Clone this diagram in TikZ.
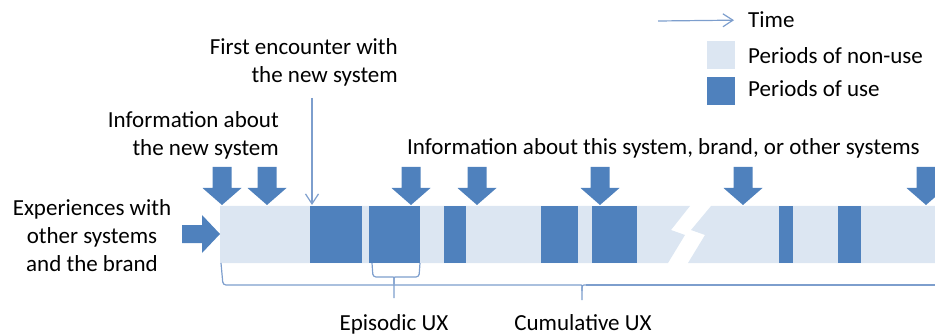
\documentclass[tikz,border=0pt]{standalone}
\usepackage{fontspec}
\setmainfont{Carlito}
\usetikzlibrary{arrows.meta}
\definecolor{usecol}{HTML}{4F81BD}
\definecolor{idlecol}{HTML}{DCE6F2}
\definecolor{linecol}{RGB}{125,158,205}

\begin{document}
\begin{tikzpicture}[x=1pt,y=-1pt,
  lbl/.style={inner sep=0pt, font=\fontsize{23}{28}\selectfont},
  thinline/.style={draw=linecol, line width=1.2pt},
  thinarrow/.style={thinline, -{Straight Barb[length=10pt,width=13pt]}},
  legendbox/.style={inner sep=0pt, minimum size=28pt, draw=none},
  infoarrow/.pic={\fill[usecol] (-9.5,0) -- (9.5,0) -- (9.5,21) -- (19.5,21)
                   -- (0,38) -- (-19.5,21) -- (-9.5,21) -- cycle;}
]
\clip (0,0) rectangle (935,334);

% time line: periods of non-use, broken by a lightning cut
\fill[idlecol] (220,206) -- (690,206) -- (671,230) -- (685,235) -- (668,263)
               -- (220,263) -- cycle;
\fill[idlecol] (711,206) -- (945,206) -- (945,263) -- (688,263) -- (705,235)
               -- (691,230) -- cycle;

% periods of use
\foreach \a/\b in {310/362, 369/420, 444/466, 541/578, 592/637, 779/793, 838/861}
  \fill[usecol] (\a,206) rectangle (\b,263);

% incoming information
\foreach \c in {222, 267, 411, 477, 600, 743, 926}
  \pic at (\c,167) {infoarrow};

% prior experiences
\fill[usecol] (182,225) -- (202,225) -- (202,215) -- (220,234) -- (202,253)
              -- (202,243) -- (182,243) -- cycle;

% labels (multi-line nodes are placed by the baseline of their last line)
\node[lbl, anchor=base east, align=right] (first) at (398,83)
  {First encounter with\\the new system};
\node[lbl, anchor=base east, align=right] (infonew) at (279,156)
  {Information about\\the new system};
\node[lbl, anchor=base west] (infoall) at (407,155)
  {Information about this system, brand, or other systems};
\node[lbl, anchor=base, align=center] (exper) at (92,271)
  {Experiences with\\other systems\\and the brand};
\node[lbl, anchor=base] (episodic) at (394,330) {Episodic UX};
\node[lbl, anchor=base] (cumul) at (583,330) {Cumulative UX};

% first encounter pointer
\coordinate (fstart) at (312,98);
\coordinate (fend) at (312,205);
\draw[thinarrow] (fstart) -- (fend);

% braces
\coordinate (eptip) at (394,298);
\draw[thinline, rounded corners=3pt] (372,263) -- (373,277) -- (390,277)
  .. controls (394,277) .. (394,284) -- (eptip);
\draw[thinline, rounded corners=3pt] (420,263) -- (419,277) -- (398,277)
  .. controls (394,277) .. (394,284);
\coordinate (cutip) at (582,300);
\draw[thinline, rounded corners=3pt] (221,263) -- (223,285) -- (578,285)
  .. controls (582,285) .. (582,291) -- (cutip);
\draw[thinline] (586,285) .. controls (582,285) .. (582,291);
\draw[thinline] (586,285) -- (945,285);

% legend
\coordinate (tstart) at (658,21);
\node[lbl, anchor=base west] (time) at (748,28) {Time};
\draw[thinarrow] (tstart) -- (time.west -| 734,0);
\node[legendbox, fill=idlecol] (knon) at (721,55) {};
\node[legendbox, fill=usecol] (kuse) at (721,91) {};
\node[lbl, anchor=base west] (tnon) at (748,64) {Periods of non-use};
\node[lbl, anchor=base west] (tuse) at (748,97) {Periods of use};
\end{tikzpicture}
\end{document}
